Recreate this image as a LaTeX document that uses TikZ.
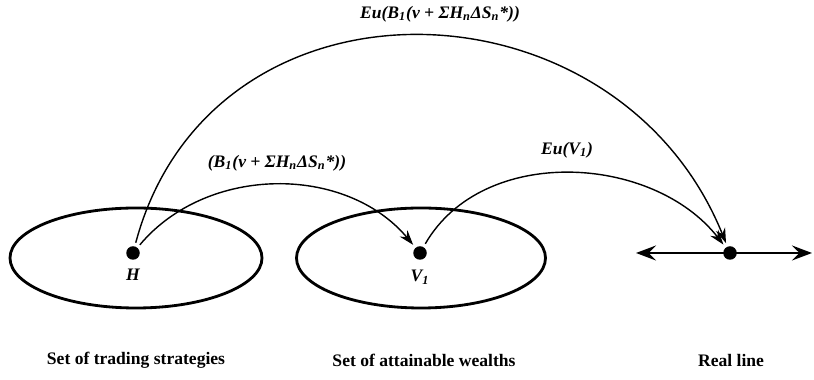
\documentclass[tikz,border=0pt]{standalone}
\usepackage{fontspec}
\setmainfont{Liberation Serif}
\usetikzlibrary{shapes.geometric,arrows.meta}

\tikzset{
  dot/.style={circle, fill, inner sep=0pt, minimum size=0.27cm},
  setring/.style={ellipse, draw, line width=1.6pt, minimum height=2cm},
  map/.style={-{Stealth[length=3mm, width=2mm, inset=1mm]}, line width=0.8pt, shorten >=2pt, shorten <=2pt},
  lab/.style={font=\bfseries\itshape},
  setname/.style={font=\bfseries}
}

\begin{document}
\begin{tikzpicture}
    \useasboundingbox (0, 0) rectangle (16.28, 7.6);

    % 集合
    \node[setring, minimum width=5.04cm] (setA) at (2.72, 2.44) {};
    \node[setring, minimum width=4.98cm] (setB) at (8.42, 2.44) {};

    % 点
    \node[dot] (H) at (2.66, 2.54) {};
    \node[dot] (V) at (8.40, 2.54) {};
    \node[dot] (R) at (14.60, 2.54) {};
    \node[lab] (Hlab) at (2.66, 2.10) {H};
    \node[lab] (Vlab) at (8.40, 2.06) {V\textsubscript{1}};

    % 实数轴
    \coordinate (RL) at (12.72, 2.54);
    \coordinate (RR) at (16.24, 2.54);
    \draw[{Stealth[length=4mm, width=3mm, inset=1.5mm]}-{Stealth[length=4mm, width=3mm, inset=1.5mm]}, line width=1.2pt] (RL) -- (RR);

    % 映射
    \draw[map] (H) to[out=50, in=130] (V);
    \draw[map] (H) to[out=75, in=112, looseness=1.28] (R);
    \draw[map] (V) to[out=60, in=128] (R);

    % 标签
    \node[lab] (f1) at (5.54, 4.34) {(B\textsubscript{1}(v + ΣH\textsubscript{n}ΔS\textsubscript{n}*))};
    \node[lab] (f2) at (8.80, 7.32) {Eu(B\textsubscript{1}(v + ΣH\textsubscript{n}ΔS\textsubscript{n}*))};
    \node[lab] (f3) at (11.34, 4.60) {Eu(V\textsubscript{1})};

    \node[setname] (nA) at (2.72, 0.40) {Set of trading strategies};
    \node[setname] (nB) at (8.48, 0.40) {Set of attainable wealths};
    \node[setname] (nR) at (14.62, 0.40) {Real line};
\end{tikzpicture}
\end{document}
